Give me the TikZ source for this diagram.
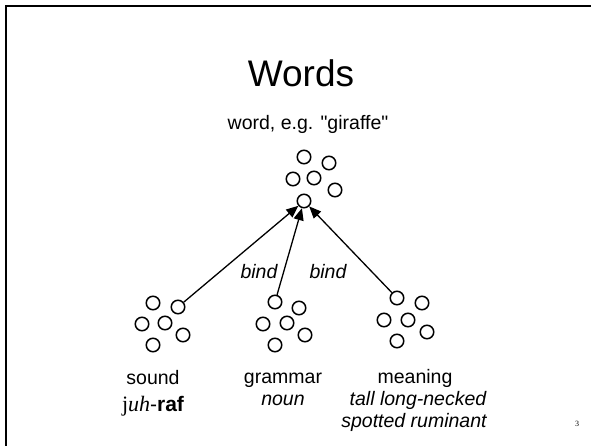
\documentclass[tikz,border=0pt]{standalone}
\usepackage{fontspec}
\setmainfont{Liberation Sans}[Ligatures=TeXOff]
\newfontfamily\juhfont{Liberation Serif}
\usetikzlibrary{arrows.meta}

\begin{document}
\begin{tikzpicture}[x=1pt,y=-1pt,
	unit/.style={circle,draw,line width=1.5pt,minimum size=13.5pt,inner sep=0pt},
	bindarrow/.style={-{Triangle[length=12pt,width=10pt]},line width=1.3pt},
	txt/.style={anchor=base,inner sep=0pt,font=\fontsize{19.5}{23}\selectfont},
	]
	\useasboundingbox (0,0) rectangle (591,446);
	\draw[line width=2.3pt] (6.2,446) -- (6.2,6.2) -- (591,6.2);
	\node [anchor=base,inner sep=0pt,font=\fontsize{37}{44}\selectfont] (title) at (301,87) {Words};
	\node [txt] (word) at (308,130) {word, e.g. "giraffe"};
	% word units
	\node [unit] (w1) at (304,157) {};
	\node [unit] (w2) at (329,163) {};
	\node [unit] (w3) at (293,179) {};
	\node [unit] (w4) at (314,178) {};
	\node [unit] (w5) at (335,190) {};
	\node [unit] (w6) at (304,201) {};
	% sound units
	\node [unit] (s1) at (153,303) {};
	\node [unit] (s2) at (178,307) {};
	\node [unit] (s3) at (142,324) {};
	\node [unit] (s4) at (165,323) {};
	\node [unit] (s5) at (183,335) {};
	\node [unit] (s6) at (153,345) {};
	% grammar units
	\node [unit] (g1) at (275,302) {};
	\node [unit] (g2) at (299,308) {};
	\node [unit] (g3) at (263,324) {};
	\node [unit] (g4) at (287,323) {};
	\node [unit] (g5) at (305,335) {};
	\node [unit] (g6) at (275,345) {};
	% meaning units
	\node [unit] (m1) at (397,298) {};
	\node [unit] (m2) at (422,303) {};
	\node [unit] (m3) at (384,320) {};
	\node [unit] (m4) at (408,320) {};
	\node [unit] (m5) at (427,332) {};
	\node [unit] (m6) at (397,341) {};
	\draw[bindarrow] (s2) -- (w6);
	\draw[bindarrow] (g1) -- (w6);
	\draw[bindarrow] (m1) -- (w6);
	\node [txt] (bl) at (259,278) {\itshape bind};
	\node [txt] (br) at (328,278) {\itshape bind};
	\node [txt] (sound) at (153,384) {sound};
	\node [txt] (juh) at (153,411) {{\juhfont\fontsize{22}{26}\selectfont j\itshape uh}\fontsize{21}{25}\selectfont-\textbf{raf}};
	\node [txt] (grammar) at (283,383) {grammar};
	\node [txt] (noun) at (283,405) {\itshape noun};
	\node [txt] (meaning) at (415,383) {meaning};
	\node [txt] (tall) at (418,405) {\itshape tall long-necked};
	\node [txt] (spotted) at (414,427) {\itshape spotted ruminant};
	\node [anchor=base,inner sep=0pt,font=\juhfont\fontsize{8}{9}\selectfont] (page) at (577,426) {3};
\end{tikzpicture}
\end{document}
